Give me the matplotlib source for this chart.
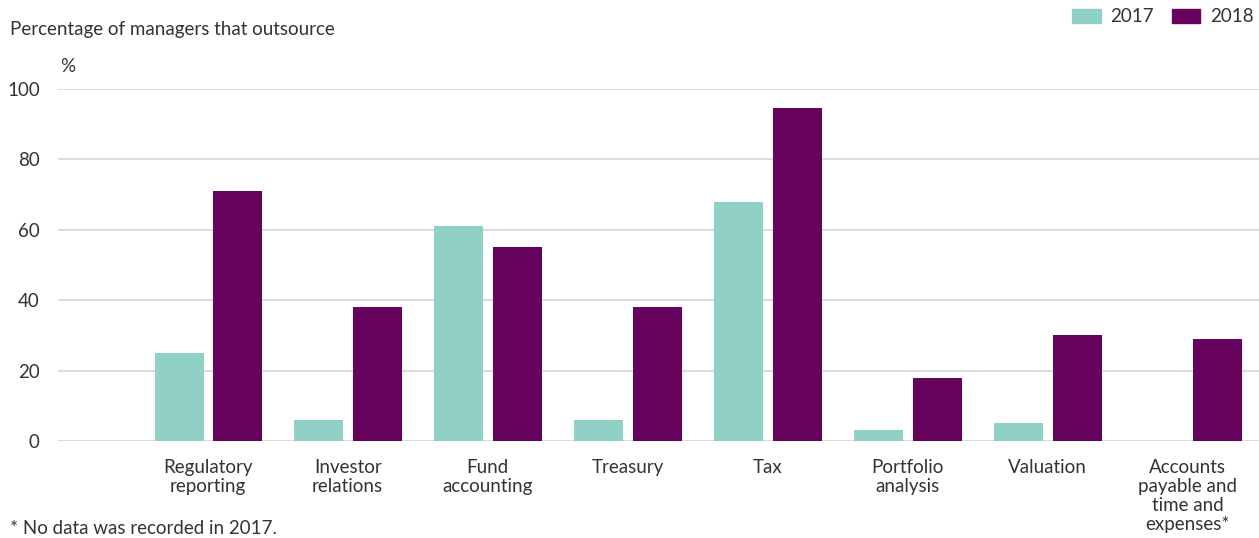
import numpy as np
import matplotlib.pyplot as plt
from matplotlib.patches import Patch

# Outsourcing by function, % of managers
categories = ['Regulatory\nreporting', 'Investor\nrelations', 'Fund\naccounting', 'Treasury',
              'Tax', 'Portfolio\nanalysis', 'Valuation', 'Accounts\npayable and\ntime and\nexpenses*']
vals_2017 = [25, 6, 61, 6, 68, 3, 5, np.nan]
vals_2018 = [71, 38, 55, 38, 94.5, 18, 30, 29]
yticks = [0, 20, 40, 60, 80, 100]

teal = '#91d1c5'
purple = '#66035c'
txt = '#333333'
fs = 13.5

plt.rcParams['font.family'] = ['Lato', 'DejaVu Sans']

fig = plt.figure(figsize=(12.59, 5.38), dpi=100)
ax = fig.add_axes([0.046, 1 - 441 / 538, 0.954, (441 - 89) / 538])

x = np.arange(len(categories))
w = 0.35
ax.bar(x - 0.205, vals_2017, width=w, color=teal, zorder=3)
ax.bar(x + 0.21, vals_2018, width=w, color=purple, zorder=3, clip_on=False)

ax.set_xlim(-1.07, 7.51)
ax.set_ylim(0, 100)
ax.set_yticks(yticks)
ax.set_xticks(x)
ax.set_xticklabels(categories, fontsize=fs, color=txt, va='top', linespacing=1.15)
ax.tick_params(axis='x', length=0, pad=13)
ax.tick_params(axis='y', length=0, pad=13, labelsize=fs, labelcolor=txt)
for lab in ax.get_yticklabels():
    lab.set_horizontalalignment('right')

ax.grid(axis='y', color='#d6d6d6', linewidth=1.2, zorder=0)
for s in ax.spines.values():
    s.set_visible(False)

fig.text(10 / 1259, 1 - 29 / 538, 'Percentage of managers that outsource', fontsize=fs,
         color=txt, va='center', ha='left')
fig.text(60 / 1259, 1 - 67 / 538, '%', fontsize=fs, color=txt, va='center', ha='left')
fig.text(10 / 1259, 1 - 528 / 538, '* No data was recorded in 2017.', fontsize=fs,
         color=txt, va='center', ha='left')

handles = [Patch(color=teal, label='2017'), Patch(color=purple, label='2018')]
fig.legend(handles=handles, loc='upper right', bbox_to_anchor=(1.0, 0.995), ncol=2,
           frameon=False, fontsize=fs, labelcolor=txt, handlelength=1.5,
           handleheight=0.8, handletextpad=0.5, columnspacing=1.0, borderaxespad=0.0,
           borderpad=0.3)

fig.savefig('out.png', dpi=100)
